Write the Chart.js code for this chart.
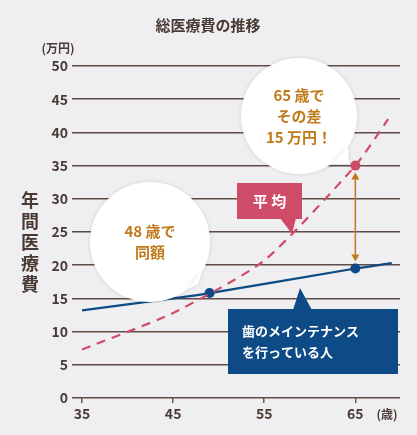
<!DOCTYPE html>
<html><head><meta charset="utf-8">
<script src="https://cdn.jsdelivr.net/npm/chart.js@4"></script>
<style>
html,body{margin:0;padding:0;background:#efeff1;}
#wrap{width:417px;height:435px;position:relative;}
</style></head>
<body><div id="wrap"><canvas id="c"></canvas></div>
<script>
const TITLE = "総医療費の推移";
const X_TICKS = [35, 45, 55, 65];
const Y_TICKS = [0, 5, 10, 15, 20, 25, 30, 35, 40, 45, 50];
const AVG_AGES = [35, 45, 55, 65, 68.6];
const AVG_COST = [7.3, 12.8, 20.7, 35, 42];
const MAINT_AGES = [35, 45, 49, 65, 69];
const MAINT_COST = [13.2, 15, 15.8, 19.5, 20.3];
const AVG_LABEL = "平 均";
const MAINT_LABEL = ["歯のメインテナンス", "を行っている人"];
const BUBBLE_65 = ["65 歳で", "その差", "15 万円！"];
const BUBBLE_48 = ["48 歳で", "同額"];

const FONT = '"Noto Sans CJK JP", sans-serif';
const TEXT = "#4a3a35";
const ORANGE = "#c07a1a";
const RED = "#cf4c68";
const NAVY = "#0e4a86";

const toXY = (xs, ys) => xs.map((x, i) => ({ x, y: ys[i] }));

function bubble(ctx, cx, cy, r, tx, ty, lines) {
  ctx.save();
  ctx.fillStyle = "#fff";
  ctx.shadowColor = "rgba(0,0,0,0.12)";
  ctx.shadowBlur = 4;
  ctx.beginPath();
  ctx.arc(cx, cy, r, 0, Math.PI * 2);
  ctx.fill();
  const a = Math.atan2(ty - cy, tx - cx);
  ctx.beginPath();
  ctx.moveTo(cx + r * Math.cos(a - 0.2), cy + r * Math.sin(a - 0.2));
  ctx.lineTo(tx, ty);
  ctx.lineTo(cx + r * Math.cos(a + 0.2), cy + r * Math.sin(a + 0.2));
  ctx.fill();
  ctx.shadowBlur = 0;
  ctx.fillStyle = ORANGE;
  ctx.font = "bold 15px " + FONT;
  ctx.textAlign = "center";
  ctx.textBaseline = "middle";
  const h = 21;
  lines.forEach((l, i) => ctx.fillText(l, cx, cy + (i - (lines.length - 1) / 2) * h));
  ctx.restore();
}

function box(ctx, x, y, w, h, color, tail, lines, size) {
  ctx.save();
  ctx.fillStyle = color;
  ctx.fillRect(x, y, w, h);
  ctx.beginPath();
  ctx.moveTo(tail[0], tail[1]);
  ctx.lineTo(tail[2], tail[3]);
  ctx.lineTo(tail[4], tail[5]);
  ctx.fill();
  ctx.fillStyle = "#fff";
  ctx.font = "bold " + size + "px " + FONT;
  ctx.textBaseline = "middle";
  ctx.textAlign = lines.length > 1 ? "left" : "center";
  const lh = 21;
  lines.forEach((l, i) => {
    const ty = y + h / 2 + (i - (lines.length - 1) / 2) * lh;
    ctx.fillText(l, lines.length > 1 ? x + 14 : x + w / 2, ty);
  });
  ctx.restore();
}

const decor = {
  id: "decor",
  afterDatasetsDraw(chart) {
    const ctx = chart.ctx;
    const xs = chart.scales.x, ys = chart.scales.y;
    // arrow between the two 65-year points
    const ax = xs.getPixelForValue(65);
    const top = ys.getPixelForValue(35) + 7, bot = ys.getPixelForValue(19.5) - 7;
    ctx.save();
    ctx.strokeStyle = ORANGE; ctx.fillStyle = ORANGE; ctx.lineWidth = 1.5;
    ctx.beginPath(); ctx.moveTo(ax, top + 5); ctx.lineTo(ax, bot - 5); ctx.stroke();
    ctx.beginPath(); ctx.moveTo(ax, top); ctx.lineTo(ax - 4, top + 7); ctx.lineTo(ax + 4, top + 7); ctx.fill();
    ctx.beginPath(); ctx.moveTo(ax, bot); ctx.lineTo(ax - 4, bot - 7); ctx.lineTo(ax + 4, bot - 7); ctx.fill();
    ctx.restore();

    bubble(ctx, 299, 116, 58, 349, 164, BUBBLE_65);
    bubble(ctx, 150, 242, 60, 198, 284, BUBBLE_48);
    box(ctx, 237, 183, 65, 36, RED, [280, 218, 292, 234, 296, 218], [AVG_LABEL], 15);
    box(ctx, 228, 309, 170, 65, NAVY, [293, 310, 300, 288, 312, 310], MAINT_LABEL, 13);

    ctx.save();
    ctx.fillStyle = TEXT;
    ctx.font = "bold 15px " + FONT;
    ctx.textAlign = "center"; ctx.textBaseline = "middle";
    ctx.fillText(TITLE, 208, 25);
    ctx.font = "bold 12px " + FONT;
    ctx.fillText("(万円)", 58, 48);
    ctx.fillText("(歳)", 387, 414);
    ctx.font = "bold 18px " + FONT;
    "年間医療費".split("").forEach((ch, i) => ctx.fillText(ch, 30, 200 + i * 21));
    ctx.restore();
  }
};

new Chart(document.getElementById("c"), {
  type: "line",
  data: {
    datasets: [
      {
        data: toXY(AVG_AGES, AVG_COST),
        borderColor: RED, borderWidth: 2.2, borderDash: [9, 7],
        pointRadius: ctx => (ctx.raw.x === 65 ? 5 : 0),
        pointBackgroundColor: RED, pointBorderWidth: 0, tension: 0.2
      },
      {
        data: toXY(MAINT_AGES, MAINT_COST),
        borderColor: NAVY, borderWidth: 2.2,
        pointRadius: ctx => (ctx.raw.x === 49 || ctx.raw.x === 65 ? 5 : 0),
        pointBackgroundColor: NAVY, pointBorderWidth: 0, tension: 0.3
      }
    ]
  },
  options: {
    responsive: true, maintainAspectRatio: false, animation: false,
    layout: { padding: { top: 66, right: 17, left: 0, bottom: 0 } },
    plugins: { legend: { display: false }, tooltip: { enabled: false } },
    scales: {
      x: {
        type: "linear", min: 33.9, max: 69.9,
        afterBuildTicks: s => { s.ticks = X_TICKS.map(v => ({ value: v })); },
        afterFit: s => { s.height = 37; },
        grid: { drawOnChartArea: false, color: "#6a5a55", tickLength: 5, lineWidth: 1.5 },
        border: { display: false },
        ticks: { color: TEXT, font: { family: FONT, size: 14, weight: "bold" }, padding: 2 }
      },
      y: {
        min: 0, max: 50,
        afterBuildTicks: s => { s.ticks = Y_TICKS.map(v => ({ value: v })); },
        afterFit: s => { s.width = 72; },
        grid: { color: "#5e4c46", lineWidth: 1.5, tickLength: 0 },
        border: { display: false },
        ticks: { color: TEXT, font: { family: FONT, size: 14, weight: "bold" }, padding: 4 }
      }
    }
  },
  plugins: [decor]
});
</script></body></html>
